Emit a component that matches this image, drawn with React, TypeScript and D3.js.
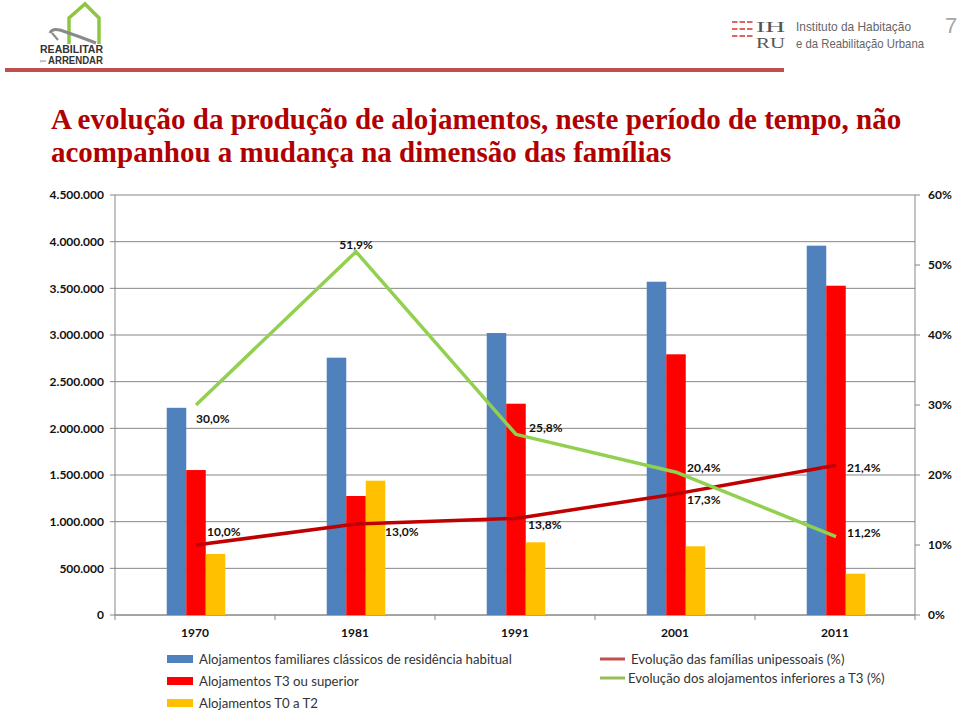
import React from "react";
import * as d3 from "d3";

const years = ["1970", "1981", "1991", "2001", "2011"];
const alojClassicos = [2220000, 2757000, 3021000, 3571000, 3957000];
const alojT3 = [1553000, 1275000, 2264000, 2793000, 3528000];
const alojT0T2 = [654000, 1439000, 779000, 736000, 443000];
const famUnipessoais = [10.0, 13.0, 13.8, 17.3, 21.4];
const alojInferioresT3 = [30.0, 51.9, 25.8, 20.4, 11.2];
const leftTicks = [0, 500000, 1000000, 1500000, 2000000, 2500000, 3000000, 3500000, 4000000, 4500000];
const rightTicks = [0, 10, 20, 30, 40, 50, 60];

const barSeries = [
  { name: "Alojamentos familiares clássicos de residência habitual", values: alojClassicos, color: "#4F81BD" },
  { name: "Alojamentos T3 ou superior", values: alojT3, color: "#FF0000" },
  { name: "Alojamentos T0 a T2", values: alojT0T2, color: "#FFC000" },
];
const lineSeries = [
  { name: "Evolução das famílias unipessoais (%)", values: famUnipessoais, color: "#C00000", legendColor: "#C0504D" },
  { name: "Evolução dos alojamentos inferiores a T3 (%)", values: alojInferioresT3, color: "#92D050", legendColor: "#9BBB59" },
];

const fmtThousands = (v: number) =>
  v === 0 ? "0" : d3.format(",")(v).replace(/,/g, ".");
const fmtPct = (v: number) => v.toFixed(1).replace(".", ",") + "%";

export default function App() {
  const W = 960, H = 714;
  const left = 115, right = 915, top = 195, bottom = 615;
  const x0 = d3.scaleBand<string>().domain(years).range([left, right]).paddingInner(0).paddingOuter(0);
  const x1 = d3.scaleBand<number>().domain([0, 1, 2]).range([0, x0.bandwidth()]).paddingInner(0).paddingOuter(2.6);
  const yL = d3.scaleLinear().domain([0, 4500000]).range([bottom, top]);
  const yR = d3.scaleLinear().domain([0, 60]).range([bottom, top]);
  const cx = (i: number) => (x0(years[i]) as number) + x0.bandwidth() / 2 + 1;
  const lineGen = d3.line<number>().x((_, i) => cx(i)).y((d) => yR(d));

  const font = "Lato, 'Open Sans', sans-serif";
  const gridColor = "#868686";
  const narrow = "'Liberation Sans', sans-serif";

  // label offsets (relative to point): [dx, dy, anchor]
  const greenLabel: [number, number, string][] = [
    [0, 14, "start"], [0, -7, "middle"], [13, -7, "start"], [11, -4, "start"], [11, -4, "start"],
  ];
  const redLabel: [number, number, string][] = [
    [11, -13, "start"], [29, 8, "start"], [12, 6, "start"], [11, 6, "start"], [11, 3, "start"],
  ];

  return (
    <svg width={W} height={H} style={{ display: "block", position: "absolute", left: 0, top: 0 }}>
      <rect width={W} height={H} fill="#fff" />
      {/* Header: left logo */}
      <g>
        <path d="M69,44 L69,18 L85,4 L99,18 L99,44" fill="none" stroke="#8DC63F" strokeWidth={3.5} strokeLinejoin="miter" />
        <path d="M50,33 Q52,28 60,30 Q78,36 96,43" fill="none" stroke="#8a8a8a" strokeWidth={3} />
        <path d="M52,33 L58,40" fill="none" stroke="#8a8a8a" strokeWidth={2} />
        <text x={40} y={53} textLength={63} lengthAdjust="spacingAndGlyphs" fontFamily={narrow} fontWeight="bold" fontSize={11} fill="#333">REABILITAR</text>
        <text x={40} y={62} fontFamily="sans-serif" fontSize={3} fill="#666">para</text>
        <text x={48} y={64} textLength={55} lengthAdjust="spacingAndGlyphs" fontFamily={narrow} fontWeight="bold" fontSize={10} fill="#333">ARRENDAR</text>
      </g>
      {/* Header: right logo */}
      <g>
        {[21, 28, 35].map((yy) => (
          <g key={yy}>
            {[0, 1, 2].map((k) => (
              <rect key={k} x={732 + k * 7.5} y={yy} width={5.5} height={2} fill="#E06666" />
            ))}
          </g>
        ))}
        <text x={756} y={32} textLength={29} lengthAdjust="spacingAndGlyphs" fontFamily="'Liberation Serif', serif" fontSize={15} fill="#555">IH</text>
        <text x={756} y={48} textLength={29} lengthAdjust="spacingAndGlyphs" fontFamily="'Liberation Serif', serif" fontSize={15} fill="#555">RU</text>
        <text x={796} y={31} textLength={115} lengthAdjust="spacingAndGlyphs" fontFamily={narrow} fontSize={13.5} fill="#666">Instituto da Habitação</text>
        <text x={796} y={48} textLength={128} lengthAdjust="spacingAndGlyphs" fontFamily={narrow} fontSize={13.5} fill="#666">e da Reabilitação Urbana</text>
        <text x={951} y={33} textAnchor="middle" fontFamily="'Liberation Sans', sans-serif" fontSize={22} fill="#a6a6a6">7</text>
      </g>
      <rect x={5} y={68} width={779} height={4} fill="#C0504D" />

      {/* Title */}
      <g fontFamily="'Liberation Serif', 'DejaVu Serif', serif" fontWeight="bold" fontSize={29} fill="#B00000">
        <text x={51} y={129}>A evolução da produção de alojamentos, neste período de tempo, não</text>
        <text x={51} y={162}>acompanhou a mudança na dimensão das famílias</text>
      </g>

      {/* Gridlines */}
      {leftTicks.map((t) => (
        <line key={t} x1={left} x2={right} y1={yL(t)} y2={yL(t)} stroke={gridColor} strokeWidth={1} />
      ))}
      {/* Axes lines */}
      <line x1={left} x2={left} y1={top} y2={bottom} stroke={gridColor} />
      <line x1={right} x2={right} y1={top} y2={bottom} stroke={gridColor} />
      <line x1={left} x2={right} y1={bottom} y2={bottom} stroke={gridColor} />
      {/* Left ticks */}
      {leftTicks.map((t) => (
        <g key={"l" + t}>
          <line x1={left - 5} x2={left} y1={yL(t)} y2={yL(t)} stroke={gridColor} />
          <text x={104} y={yL(t)} dy="0.35em" textAnchor="end" fontFamily={font} fontWeight="bold" fontSize={12} fill="#111">{fmtThousands(t)}</text>
        </g>
      ))}
      {/* Right ticks */}
      {rightTicks.map((t) => (
        <g key={"r" + t}>
          <line x1={right} x2={right + 5} y1={yR(t)} y2={yR(t)} stroke={gridColor} />
          <text x={928} y={yR(t)} dy="0.35em" textAnchor="start" fontFamily={font} fontWeight="bold" fontSize={12} fill="#111">{t + "%"}</text>
        </g>
      ))}
      {/* Category ticks */}
      {years.map((yr) => (
        <line key={"ct" + yr} x1={x0(yr) as number} x2={x0(yr) as number} y1={bottom} y2={bottom + 5} stroke={gridColor} />
      ))}
      <line x1={right} x2={right} y1={bottom} y2={bottom + 5} stroke={gridColor} />
      {years.map((yr) => (
        <text key={"cl" + yr} x={(x0(yr) as number) + x0.bandwidth() / 2} y={633} dy="0.35em" textAnchor="middle" fontFamily={font} fontWeight="bold" fontSize={12} fill="#111">{yr}</text>
      ))}

      {/* Bars */}
      {barSeries.map((s, si) => (
        <g key={s.name}>
          {s.values.map((v, i) => (
            <rect
              key={i}
              x={(x0(years[i]) as number) + (x1(si) as number) + 1}
              y={yL(v)}
              width={x1.bandwidth()}
              height={bottom - yL(v)}
              fill={s.color}
            />
          ))}
        </g>
      ))}

      {/* Lines */}
      {lineSeries.map((s) => (
        <path key={s.name} d={lineGen(s.values) as string} fill="none" stroke={s.color} strokeWidth={3.5} strokeLinejoin="round" />
      ))}

      {/* Data labels */}
      <g fontFamily={font} fontWeight="bold" fontSize={12} fill="#111">
        {alojInferioresT3.map((v, i) => (
          <text key={"g" + i} x={cx(i) + greenLabel[i][0]} y={yR(v) + greenLabel[i][1]} dy="0.35em" textAnchor={greenLabel[i][2] as any}>{fmtPct(v)}</text>
        ))}
        {famUnipessoais.map((v, i) => (
          <text key={"r" + i} x={cx(i) + redLabel[i][0]} y={yR(v) + redLabel[i][1]} dy="0.35em" textAnchor={redLabel[i][2] as any}>{fmtPct(v)}</text>
        ))}
      </g>

      {/* Legend */}
      <g fontFamily={font} fontSize={13.2} fill="#333">
        {barSeries.map((s, i) => (
          <g key={"lg" + i}>
            <rect x={167} y={655 + i * 22} width={26} height={8} fill={s.color} />
            <text x={199} y={659 + i * 22} dy="0.35em">{s.name}</text>
          </g>
        ))}
        {lineSeries.map((s, i) => (
          <g key={"ll" + i}>
            <line x1={600} x2={625} y1={659 + i * 19} y2={659 + i * 19} stroke={s.legendColor} strokeWidth={3} />
            <text x={i === 0 ? 631 : 628} y={659 + i * 19} dy="0.35em">{s.name}</text>
          </g>
        ))}
      </g>
    </svg>
  );
}
